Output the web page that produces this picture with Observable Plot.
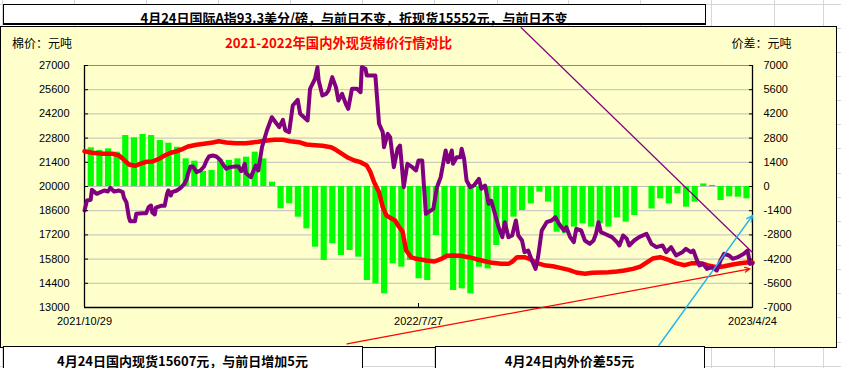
<!DOCTYPE html>
<html><head><meta charset="utf-8">
<script src="https://cdn.jsdelivr.net/npm/d3@7"></script>
<script src="https://cdn.jsdelivr.net/npm/@observablehq/plot@0.6"></script>
<style>
html,body{margin:0;padding:0;width:841px;height:368px;overflow:hidden;background:#fff;}
#page{position:relative;width:841px;height:368px;overflow:hidden;}
.abs{position:absolute;box-sizing:border-box;}
.cjk{font-family:"Noto Sans CJK SC","Noto Sans",sans-serif;white-space:nowrap;line-height:1;}
.ctr{transform:translate(-50%,-50%);}
</style></head><body><div id="page"></div>
<script>
// ---------- data ----------
const OFFSET = 20000; // right axis 0 aligns with left axis 20000
const xTickDates = ["2021-10-29", "2022-07-27", "2023-04-24"];
const leftTicks = [13000, 14400, 15800, 17200, 18600, 20000, 21400, 22800, 24200, 25600, 27000];
const rightTicks = [-7000, -5600, -4200, -2800, -1400, 0, 1400, 2800, 4200, 5600, 7000];

const domesticDates = ["2021-10-29","2021-11-04","2021-11-13","2021-11-21","2021-11-26","2021-11-30","2021-12-04","2021-12-09","2021-12-13","2021-12-18","2021-12-23","2021-12-28","2022-01-02","2022-01-07","2022-01-12","2022-01-17","2022-01-21","2022-01-28","2022-02-03","2022-02-10","2022-02-15","2022-02-21","2022-03-01","2022-03-09","2022-03-14","2022-03-19","2022-03-26","2022-04-01","2022-04-08","2022-04-14","2022-04-21","2022-04-27","2022-05-04","2022-05-10","2022-05-17","2022-05-21","2022-05-26","2022-05-31","2022-06-05","2022-06-10","2022-06-15","2022-06-18","2022-06-21","2022-06-25","2022-06-28","2022-07-01","2022-07-04","2022-07-08","2022-07-11","2022-07-14","2022-07-17","2022-07-21","2022-07-25","2022-07-29","2022-08-02","2022-08-09","2022-08-14","2022-08-19","2022-08-24","2022-08-30","2022-09-06","2022-09-12","2022-09-19","2022-09-25","2022-10-02","2022-10-08","2022-10-11","2022-10-15","2022-10-21","2022-10-26","2022-10-31","2022-11-06","2022-11-13","2022-11-19","2022-11-26","2022-12-02","2022-12-09","2022-12-15","2022-12-22","2022-12-28","2023-01-04","2023-01-10","2023-01-17","2023-01-23","2023-01-28","2023-02-02","2023-02-08","2023-02-15","2023-02-21","2023-02-28","2023-03-06","2023-03-13","2023-03-19","2023-03-26","2023-04-01","2023-04-08","2023-04-14","2023-04-21","2023-04-24"];
const domesticValues = [22042,21950,21892,21892,21794,21545,21273,21198,21313,21429,21446,21580,21794,21950,22042,22181,22314,22412,22470,22545,22620,22545,22506,22506,22545,22586,22661,22700,22700,22620,22563,22430,22390,22355,22274,22123,21892,21660,21504,21408,21215,20828,20250,19671,18803,18322,18188,18033,17686,17400,16297,15911,15817,15777,15719,15661,15795,15989,16008,15989,15911,15795,15679,15584,15525,15525,15642,15911,15911,15777,15565,15448,15390,15293,15178,15025,14948,15006,15025,15044,15083,15140,15236,15370,15602,15834,15911,15757,15565,15448,15565,15565,15430,15333,15390,15487,15565,15622,15607];

const intlDates = ["2021-10-29","2021-10-31","2021-11-03","2021-11-04","2021-11-08","2021-11-11","2021-11-14","2021-11-17","2021-11-19","2021-11-22","2021-11-26","2021-11-29","2021-11-30","2021-12-02","2021-12-04","2021-12-05","2021-12-09","2021-12-10","2021-12-15","2021-12-18","2021-12-20","2021-12-22","2021-12-23","2021-12-25","2021-12-26","2021-12-30","2022-01-02","2022-01-04","2022-01-05","2022-01-07","2022-01-08","2022-01-12","2022-01-15","2022-01-18","2022-01-20","2022-01-21","2022-01-23","2022-01-25","2022-01-28","2022-01-31","2022-02-03","2022-02-05","2022-02-07","2022-02-10","2022-02-13","2022-02-16","2022-02-18","2022-02-21","2022-02-24","2022-02-28","2022-03-03","2022-03-05","2022-03-06","2022-03-08","2022-03-09","2022-03-13","2022-03-14","2022-03-17","2022-03-19","2022-03-22","2022-03-26","2022-03-30","2022-04-02","2022-04-05","2022-04-08","2022-04-10","2022-04-13","2022-04-16","2022-04-20","2022-04-22","2022-04-28","2022-04-30","2022-05-04","2022-05-06","2022-05-07","2022-05-10","2022-05-13","2022-05-15","2022-05-18","2022-05-21","2022-05-23","2022-05-26","2022-05-29","2022-05-31","2022-06-03","2022-06-07","2022-06-10","2022-06-11","2022-06-14","2022-06-15","2022-06-22","2022-06-25","2022-06-28","2022-06-29","2022-07-02","2022-07-04","2022-07-07","2022-07-10","2022-07-12","2022-07-15","2022-07-18","2022-07-22","2022-07-25","2022-07-27","2022-07-30","2022-08-02","2022-08-04","2022-08-08","2022-08-11","2022-08-14","2022-08-18","2022-08-20","2022-08-23","2022-08-24","2022-08-27","2022-08-30","2022-08-31","2022-09-02","2022-09-04","2022-09-07","2022-09-10","2022-09-14","2022-09-16","2022-09-19","2022-09-22","2022-09-24","2022-09-27","2022-09-30","2022-10-03","2022-10-05","2022-10-08","2022-10-11","2022-10-14","2022-10-16","2022-10-19","2022-10-21","2022-10-24","2022-10-27","2022-10-30","2022-11-01","2022-11-04","2022-11-08","2022-11-12","2022-11-15","2022-11-18","2022-11-22","2022-11-24","2022-11-27","2022-11-30","2022-12-02","2022-12-06","2022-12-09","2022-12-13","2022-12-16","2022-12-18","2022-12-20","2022-12-22","2022-12-25","2022-12-31","2023-01-04","2023-01-06","2023-01-09","2023-01-12","2023-01-14","2023-01-18","2023-01-22","2023-01-28","2023-02-01","2023-02-05","2023-02-10","2023-02-13","2023-02-17","2023-02-21","2023-02-26","2023-03-01","2023-03-05","2023-03-07","2023-03-10","2023-03-12","2023-03-15","2023-03-18","2023-03-22","2023-03-26","2023-03-29","2023-04-01","2023-04-05","2023-04-08","2023-04-12","2023-04-17","2023-04-20","2023-04-22","2023-04-24"];
const intlValues = [18612,19190,19229,19807,19576,19671,19769,19711,19924,19711,19769,19671,19345,19092,18226,17995,17995,18419,18457,18457,18803,18900,18500,18380,18780,18881,18881,19576,19769,19480,19671,19769,19924,20152,20443,20732,21157,21157,20828,20925,21157,21504,21736,21794,21736,21545,21313,21024,21120,21157,21157,20886,20925,21313,20770,20539,20732,21215,20926,22274,23240,24009,23720,23433,23857,23240,23143,24686,25016,24206,23818,25652,26230,26904,26132,25265,25360,25554,26325,25746,24975,25360,24784,24495,25652,25652,25457,26904,26808,26422,26422,23627,23143,22274,23047,22854,21117,22181,22372,19962,21313,21117,20926,21504,21504,18419,18515,18710,19962,20539,22083,21408,22083,21313,21696,21696,22181,21601,20347,19962,20058,20443,19866,20058,18997,19190,18419,17648,17069,17937,17069,17166,18033,17166,16876,16200,16297,15719,15236,15911,17455,17937,18033,18226,17842,17455,17648,17069,16779,17552,17455,16876,16683,16876,17264,17937,17360,17264,17069,16779,16587,17166,16972,16587,16876,17069,17264,16683,16490,16587,16200,16490,16008,16200,16393,16200,16297,15719,15430,15525,15236,15333,15140,15719,16106,16008,15817,15911,16106,16297,15525,15552];

// price difference (right axis): first trading day, then one value per trading week (Mon-Fri)
const diffFirstDate = "2021-10-29";
const diffFirstValue = 2758;
const diffWeekStart = "2021-11-01";
const diffWeekValues = [2237,2083,2180,1986,2950,2816,3008,2950,2660,2507,
  2270,1600,1466,880,926,1543,1504,1600,1697,1986,
  1600,250,-1290,-1000,-1775,-2450,-3510,-4280,-3315,-3990,
  -3702,-4088,-5438,-5630,-6209,-4474,-4667,-4280,-5340,-5438,
  -2834,-4088,-6016,-5920,-6209,-4667,-4763,-3411,-2449,-1775,
  -1388,-1002,-328,-900,-2642,-2738,-2352,-2160,-2352,-2160,
  -2352,-1812,-2062,-1677,null,-1300,-713,-1002,-424,-1195,
  -906,150,60,-810,-600,-617,-713,55];

// hand-drawn trend lines (date, value on left axis)
const purpleTrendDates = ["2022-10-18", "2023-04-24"];
const purpleTrendValues = [29216, 16182];
const redTrendDates = ["2022-05-30", "2023-04-22"];
const redTrendValues = [10900, 15239];
const blueTrendDates = ["2023-02-07", "2023-04-24"];
const blueTrendValues = [10802, 18322];

const topNote = "4月24日国际A指93.3美分/磅，与前日不变，折现货15552元，与前日不变";
const bottomNoteLeft = "4月24日国内现货15607元，与前日增加5元";
const bottomNoteRight = "4月24日内外价差55元";
const chartTitle = "2021-2022年国内外现货棉价行情对比";
const leftUnit = "棉价：元吨";
const rightUnit = "价差：元吨";

// ---------- build tables ----------
const P = s => new Date(s);
const domestic = domesticDates.map((d, i) => ({date: P(d), value: domesticValues[i]}));
const intl = intlDates.map((d, i) => ({date: P(d), value: intlValues[i]}));
const lastDate = P(xTickDates[2]);
const mondays = d3.utcMonday.range(P(diffWeekStart), d3.utcDay.offset(lastDate, 1));
const bars = [{x1: P(diffFirstDate), x2: d3.utcDay.offset(P(diffFirstDate), 1), v: diffFirstValue}]
  .concat(mondays.map((m, i) => ({
    x1: m,
    x2: +m === +lastDate ? d3.utcDay.offset(m, 1) : d3.utcDay.offset(m, 5),
    v: diffWeekValues[i]
  })).filter(d => d.v != null));
const seg = (ds, vs) => [{x1: P(ds[0]), y1: vs[0], x2: P(ds[1]), y2: vs[1]}];

// ---------- page furniture ----------
const page = document.getElementById("page");
function add(html) { page.insertAdjacentHTML("beforeend", html); }
// spreadsheet grid
[2, 74, 146, 218, 290, 362, 434, 497, 568, 640, 711, 774, 823].forEach(x =>
  add(`<div class="abs" style="left:${x}px;top:0;width:1px;height:368px;background:#d6d6d6"></div>`));
for (let y = 3.5; y < 368; y += 24.15)
  add(`<div class="abs" style="left:0;top:${y}px;width:841px;height:1px;background:#d6d6d6"></div>`);
// chart area
add(`<div class="abs" style="left:0;top:25.5px;width:837px;height:322px;background:#FFFFCC;border:1px solid #000"></div>`);
// note boxes
add(`<div class="abs" style="left:2.5px;top:3.5px;width:703px;height:21.5px;background:#fff;border:1px solid #000;border-bottom-width:2px"></div>`);
add(`<div class="abs" style="left:2.5px;top:346px;width:360px;height:30px;background:#fff;border:1px solid #000"></div>`);
add(`<div class="abs" style="left:434.5px;top:346px;width:270px;height:30px;background:#fff;border:1px solid #000"></div>`);
add(`<div class="abs cjk ctr" style="left:354px;top:17px;font-size:13px;font-weight:bold">${topNote}</div>`);
add(`<div class="abs cjk ctr" style="left:182.5px;top:360px;font-size:13px;font-weight:bold">${bottomNoteLeft}</div>`);
add(`<div class="abs cjk ctr" style="left:569.5px;top:360px;font-size:13px;font-weight:bold">${bottomNoteRight}</div>`);
add(`<div class="abs cjk ctr" style="left:338.5px;top:42.7px;font-size:13.3px;font-weight:bold;color:#FF0000">${chartTitle}</div>`);
add(`<div class="abs cjk" style="left:12px;top:36.5px;font-size:12px">${leftUnit}</div>`);
add(`<div class="abs cjk" style="left:731.5px;top:36.5px;font-size:12px">${rightUnit}</div>`);

// ---------- chart ----------
const leftTickDates = xTickDates.map(P);
const chart = Plot.plot({
  width: 841,
  height: 368,
  marginLeft: 84,
  marginRight: 89,
  marginTop: 65,
  marginBottom: 61,
  style: {background: "none", fontFamily: "'Liberation Sans', Arial, sans-serif", fontSize: "11px", color: "#000", overflow: "visible"},
  x: {type: "utc", domain: [leftTickDates[0], leftTickDates[2]], axis: null},
  y: {domain: [leftTicks[0], leftTicks[leftTicks.length - 1]], axis: null},
  marks: [
    Plot.ruleY(leftTicks.slice(1, -1), {stroke: "#BEBEBE", strokeWidth: 1}),
    Plot.rectY(bars, {x1: "x1", x2: "x2", y1: OFFSET, y2: d => OFFSET + d.v, fill: "#00FF00"}),
    Plot.ruleY([leftTicks[leftTicks.length - 1]], {stroke: "#8a8a8a", strokeWidth: 1}),
    Plot.ruleY([leftTicks[0]], {stroke: "#000", strokeWidth: 1.3}),
    Plot.ruleX([leftTickDates[0], leftTickDates[2]], {stroke: "#000", strokeWidth: 1.3}),
    Plot.line(domestic, {x: "date", y: "value", stroke: "#FF0000", strokeWidth: 4.5, strokeLinejoin: "round"}),
    Plot.line(intl, {x: "date", y: "value", stroke: "#800080", strokeWidth: 4, strokeLinejoin: "round"}),
    // axes: labels
    Plot.axisY(leftTicks, {anchor: "left", tickSize: 0, tickPadding: 15, tickFormat: d => String(d)}),
    Plot.axisY(leftTicks, {anchor: "left", tickSize: 4, dx: 4, tickFormat: () => ""}),
    Plot.axisY(rightTicks.map(v => v + OFFSET), {anchor: "right", tickSize: 0, tickPadding: 11, tickFormat: d => String(d - OFFSET)}),
    Plot.axisY(rightTicks.map(v => v + OFFSET), {anchor: "right", tickSize: 4, dx: -4, tickFormat: () => ""}),
    Plot.axisX(leftTickDates, {anchor: "bottom", tickSize: 0, tickPadding: 10, tickFormat: d3.utcFormat("%Y/%-m/%-d")}),
    Plot.axisX(leftTickDates, {anchor: "bottom", tickSize: 4, dy: -4, tickFormat: () => ""}),
    // trend lines
    Plot.link(seg(purpleTrendDates, purpleTrendValues), {x1: "x1", y1: "y1", x2: "x2", y2: "y2", stroke: "#800080", strokeWidth: 1.2}),
    Plot.arrow(seg(redTrendDates, redTrendValues), {x1: "x1", y1: "y1", x2: "x2", y2: "y2", stroke: "#FF0000", strokeWidth: 1.2, headLength: 7, headAngle: 50}),
    Plot.arrow(seg(blueTrendDates, blueTrendValues), {x1: "x1", y1: "y1", x2: "x2", y2: "y2", stroke: "#1EB4F0", strokeWidth: 1.4, headLength: 7, headAngle: 50})
  ]
});
chart.style.position = "absolute";
chart.style.left = "0px";
chart.style.top = "0px";
page.appendChild(chart);
</script></body></html>
